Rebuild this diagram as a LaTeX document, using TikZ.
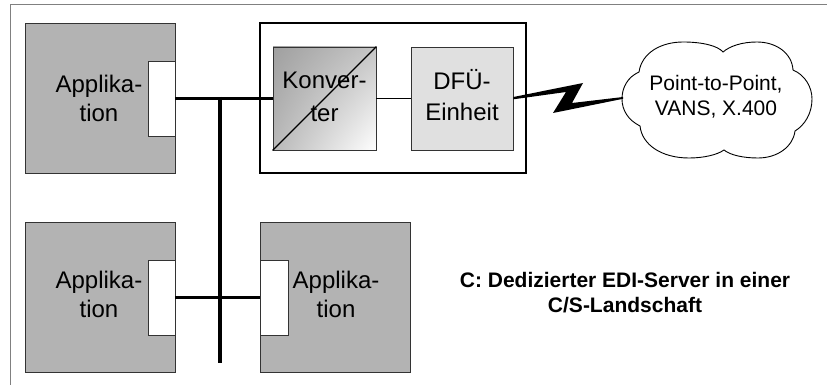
\documentclass[tikz,border=0pt]{standalone}
\usepackage{fontspec}
\setmainfont{Liberation Sans}
\usetikzlibrary{shadings}
\definecolor{appgray}{HTML}{B3B3B3}
\definecolor{dfugray}{HTML}{E0E0E0}
\definecolor{framegray}{HTML}{808080}
\begin{document}
\begin{tikzpicture}[x=1pt,y=-1pt,
  appbox/.style={draw=black!80, line width=0.8pt, fill=appgray, minimum width=150pt, minimum height=150pt, inner sep=0pt},
  portbox/.style={draw=black!80, line width=0.8pt, fill=white, minimum width=27pt, minimum height=75pt, inner sep=0pt},
  txt/.style={font=\fontsize{24}{29}\selectfont, align=center, inner sep=0pt},
  bus/.style={line width=3.5pt, black},
  thinline/.style={line width=0.8pt, black}
]
\useasboundingbox (0,0) rectangle (827,385);
% frame
\draw[framegray, line width=1pt] (10,385) -- (10,5) -- (827,5);

% application boxes
\node[appbox] (app1) at (100,98) {};
\node[portbox] (port1) at (161.5,98.5) {};
\node[txt] (app1t) at (99,98) {Applika-\\tion};

\node[appbox] (app2) at (100,297) {};
\node[portbox] (port2) at (161.5,297.5) {};
\node[txt] (app2t) at (99,294) {Applika-\\tion};

\node[appbox] (app3) at (335,297) {};
\node[portbox, minimum width=28pt] (port3) at (274,297.5) {};
\node[txt] (app3t) at (336,294) {Applika-\\tion};

% EDI server
\node[draw=black, line width=2pt, minimum width=266pt, minimum height=150pt, inner sep=0pt] (server) at (393,98) {};
\node[draw=black!80, line width=0.8pt, minimum width=103pt, minimum height=103pt, inner sep=0pt,
      upper left=gray!75, upper right=gray!45, lower left=gray!55, lower right=white] (konv) at (324.5,98.5) {};
\draw[line width=1.2pt, black] (konv.south west) -- (konv.north east);
\node[txt, font=\fontsize{24}{33}\selectfont] (konvt) at (324.5,97) {Konver-\\ter};

\node[draw=black!80, line width=0.8pt, fill=dfugray, minimum width=102pt, minimum height=103pt, inner sep=0pt] (dfu) at (462,98.5) {};
\node[txt, font=\fontsize{24}{31}\selectfont] (dfut) at (462,95.5) {DFÜ-\\Einheit};

\draw[thinline] (konv.east) -- (dfu.west);

% bus
\coordinate (busTop) at (220,97);
\coordinate (busBot) at (220,363);
\draw[bus] (port1.east) -- (konv.west);
\draw[bus, line width=4pt] (busTop) -- (busBot);
\draw[bus] (port2.east) -- (port3.west);

% cloud
\draw[line width=0.9pt, fill=white]
 (640,126) .. controls (628,120) and (622,110) .. (622,99)
 .. controls (622,87) and (628,77) .. (639,72)
 .. controls (642,52) and (662,42) .. (683,42)
 .. controls (703,42) and (718,46) .. (723,52)
 .. controls (730,46) and (742,42) .. (757,42)
 .. controls (776,42) and (792,53) .. (793,70)
 .. controls (805,75) and (812,87) .. (812,99)
 .. controls (812,113) and (805,125) .. (795,131)
 .. controls (793,147) and (777,158) .. (758,158)
 .. controls (743,158) and (730,155) .. (724,150)
 .. controls (717,155) and (703,158) .. (689,158)
 .. controls (662,158) and (642,145) .. (640,126) -- cycle;
\coordinate (cloudW) at (623,98);
\node[txt, font=\fontsize{21}{25}\selectfont] (cloudt) at (716,96.5) {Point-to-Point,\\VANS, X.400};

% lightning
\fill[black] ([yshift=1.5pt]dfu.east) -- (583,83) -- (572,103) -- ([yshift=1pt]cloudW)
  -- ([yshift=-0.8pt]cloudW) -- (553,113) -- (566,92) -- ([yshift=-0.8pt]dfu.east) -- cycle;

% caption
\node[txt, font=\bfseries\fontsize{21}{25}\selectfont] (caption) at (625,293) {C: Dedizierter EDI-Server in einer\\C/S-Landschaft};
\end{tikzpicture}
\end{document}
